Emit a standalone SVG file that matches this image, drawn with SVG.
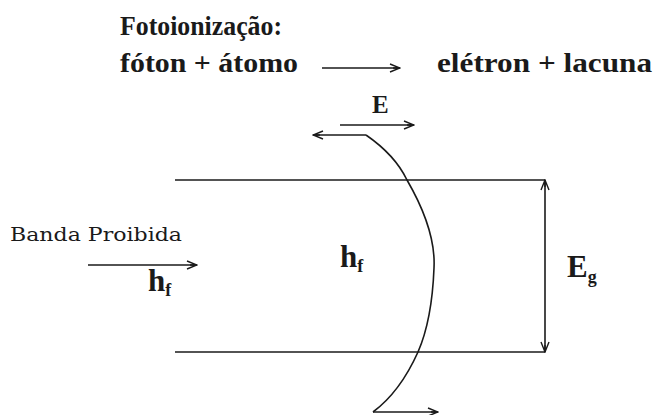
<svg xmlns="http://www.w3.org/2000/svg" width="655" height="415" viewBox="0 0 655 415">
<defs>
<style>
.t{font-family:"Liberation Serif","Times New Roman",serif;font-weight:bold;fill:#1a1a1a}
.r{font-family:"DejaVu Serif","Liberation Serif",serif;fill:#1a1a1a}
.ln{stroke:#1a1a1a;stroke-width:1.6;fill:none}
</style>
<marker id="ah" markerWidth="12" markerHeight="10" refX="11" refY="5" orient="auto-start-reverse" markerUnits="userSpaceOnUse">
<path d="M1,1 L11,5 L1,9 M4,5 L11,5" stroke="#1a1a1a" stroke-width="1.4" fill="none"/>
</marker>
</defs>
<rect width="655" height="415" fill="#fff"/>
<g id="title">
<text class="t" x="120" y="35" font-size="28" textLength="162" lengthAdjust="spacingAndGlyphs">Fotoionização:</text>
<text class="t" x="120" y="72" font-size="28" textLength="178" lengthAdjust="spacingAndGlyphs">fóton + átomo</text>
<text class="t" x="437" y="72" font-size="28" textLength="215" lengthAdjust="spacingAndGlyphs">elétron + lacuna</text>
</g>
<g id="band">
<line class="ln" x1="175" y1="180" x2="545" y2="180"/>
<line class="ln" x1="175" y1="352" x2="545" y2="352"/>
</g>
<g id="labels">
<text class="r" x="10" y="241" font-size="18" textLength="172" lengthAdjust="spacingAndGlyphs">Banda Proibida</text>
<text class="t" x="148" y="291" font-size="31">h<tspan font-size="18" dy="5">f</tspan></text>
<text class="t" x="340" y="267" font-size="31">h<tspan font-size="18" dy="5">f</tspan></text>
<text class="t" x="567" y="277" font-size="31">E<tspan font-size="18" dy="6">g</tspan></text>
<text class="t" x="372" y="113" font-size="25">E</text>
</g>
<g id="connectors">
<line class="ln" x1="322" y1="68" x2="400" y2="68" marker-end="url(#ah)"/>
<line class="ln" x1="88" y1="265" x2="197" y2="265" marker-end="url(#ah)"/>
<line class="ln" x1="340" y1="125" x2="414" y2="125" marker-end="url(#ah)"/>
<line class="ln" x1="366" y1="135" x2="313" y2="135" marker-end="url(#ah)"/>
<path class="ln" d="M366,135 Q395,155 407,180 Q436,230 434,268 Q432,320 418,352 Q400,392 373,412"/>
<line class="ln" x1="373" y1="412" x2="438" y2="412" marker-end="url(#ah)"/>
<line class="ln" x1="545" y1="180" x2="545" y2="352" marker-start="url(#ah)" marker-end="url(#ah)"/>
</g>
</svg>
